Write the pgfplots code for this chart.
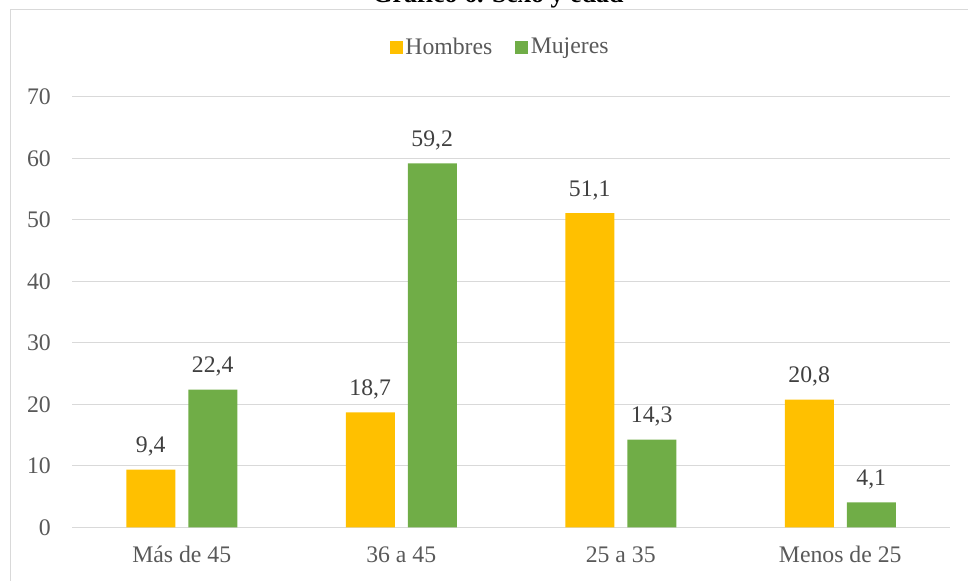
\documentclass[border=0pt]{standalone}
\usepackage{fontspec}
\setmainfont{Liberation Serif}
\usepackage{pgfplots}
\pgfplotsset{compat=1.18}
\definecolor{hombres}{HTML}{FFC000}
\definecolor{mujeres}{HTML}{70AD47}
\definecolor{gridgray}{HTML}{D9D9D9}
\definecolor{txtgray}{HTML}{595959}
\definecolor{lblgray}{HTML}{404040}
\begin{document}
\begin{tikzpicture}
% canvas: 968x581 px at 0.75pt per px
\path[use as bounding box] (0,0) rectangle (726pt,435.75pt);
\draw[gridgray, line width=0.75pt] (7.5pt,-5pt) -- (7.5pt,428.25pt) -- (740pt,428.25pt);
\node[anchor=base, font=\fontsize{19.5}{22}\selectfont\bfseries] at (373.5pt,433.5pt) {Gráfico 6. Sexo y edad};
\begin{axis}[
  at={(54pt,40.125pt)}, anchor=south west,
  scale only axis, width=658.5pt, height=322.9pt,
  ybar=9.75pt, bar width=36.75pt,
  xmin=-0.5, xmax=3.5, ymin=0, ymax=70,
  ytick={0,10,...,70},
  xtick={0,1,2,3},
  xticklabels={Más de 45, 36 a 45, 25 a 35, Menos de 25},
  ymajorgrids, grid style={gridgray, line width=0.75pt},
  axis line style={draw=none}, major tick length=0pt, tick style={draw=none},
  /pgf/number format/assume math mode=true,
  tick label style={font=\fontsize{17.8}{21}\selectfont, text=txtgray, inner sep=0pt},
  yticklabel style={anchor=east, xshift=-15.75pt},
  xticklabel style={anchor=base, yshift=-25.9pt},
  nodes near coords={\pgfmathprintnumber[fixed, fixed zerofill, precision=1, use comma]{\pgfplotspointmeta}},
  nodes near coords style={font=\fontsize{17.8}{21}\selectfont, text=lblgray, anchor=base, inner sep=0pt, yshift=12.75pt},
  legend columns=2,
  legend style={at={(0.488,1.116)}, anchor=center, draw=none, fill=none,
    font=\fontsize{17.8}{21}\selectfont, text=txtgray,
    /tikz/every even column/.append style={column sep=15pt}},
  legend image code/.code={\fill[#1] (-2pt,-4.875pt) rectangle (7.75pt,4.875pt);},
]
\addplot[fill=hombres, draw=none] coordinates {(0,9.4) (1,18.7) (2,51.1) (3,20.8)};
\addplot[fill=mujeres, draw=none] coordinates {(0,22.4) (1,59.2) (2,14.3) (3,4.1)};
\legend{Hombres, Mujeres}
\end{axis}
\end{tikzpicture}
\end{document}
